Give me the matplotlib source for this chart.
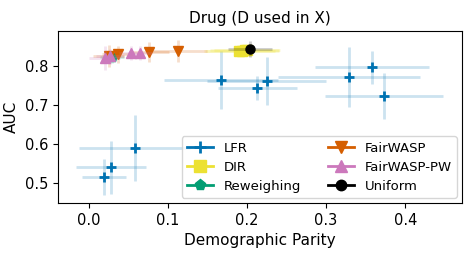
import matplotlib
matplotlib.use('Agg')
import matplotlib.pyplot as plt
from matplotlib.lines import Line2D

# LFR
lfr_x = [0.167, 0.213, 0.225, 0.329, 0.358, 0.373, 0.019, 0.028, 0.058]
lfr_y = [0.764, 0.744, 0.762, 0.772, 0.797, 0.723, 0.515, 0.541, 0.590]
lfr_xerr = [0.072, 0.050, 0.075, 0.090, 0.072, 0.075, 0.028, 0.044, 0.070]
lfr_yerr = [0.074, 0.031, 0.062, 0.076, 0.042, 0.059, 0.046, 0.068, 0.085]

# DIR
dir_x = [0.190, 0.194, 0.197, 0.200]
dir_y = [0.838, 0.840, 0.841, 0.842]
dir_xerr = [0.045, 0.046, 0.044, 0.042]
dir_yerr = [0.008, 0.008, 0.008, 0.008]

# Reweighing
rew_x = [0.029]
rew_y = [0.823]
rew_xerr = [0.015]
rew_yerr = [0.015]

# FairWASP
fw_x = [0.025, 0.037, 0.076, 0.113]
fw_y = [0.826, 0.831, 0.836, 0.838]
fw_xerr = [0.020, 0.020, 0.025, 0.037]
fw_yerr = [0.028, 0.022, 0.025, 0.028]

# FairWASP-PW
fwpw_x = [0.020, 0.027, 0.053, 0.065]
fwpw_y = [0.821, 0.825, 0.833, 0.833]
fwpw_xerr = [0.020, 0.018, 0.015, 0.015]
fwpw_yerr = [0.030, 0.020, 0.018, 0.018]

# Uniform
uni_x = [0.204]
uni_y = [0.844]
uni_xerr = [0.028]
uni_yerr = [0.020]

series = [
    ('LFR', lfr_x, lfr_y, lfr_xerr, lfr_yerr, '#0173b2', '+', 7),
    ('DIR', dir_x, dir_y, dir_xerr, dir_yerr, '#ece133', 's', 7),
    ('Reweighing', rew_x, rew_y, rew_xerr, rew_yerr, '#029e73', 'p', 7),
    ('FairWASP', fw_x, fw_y, fw_xerr, fw_yerr, '#d55e00', 'v', 7),
    ('FairWASP-PW', fwpw_x, fwpw_y, fwpw_xerr, fwpw_yerr, '#cc78bc', '^', 7),
    ('Uniform', uni_x, uni_y, uni_xerr, uni_yerr, 'black', 'o', 6.5),
]

fig = plt.figure(figsize=(4.75, 2.59), dpi=100)
ax = fig.add_axes([0.122, 0.216, 0.851, 0.664])

handles = []
for name, x, y, xe, ye, color, marker, ms in series:
    ax.errorbar(x, y, xerr=xe, yerr=ye, fmt='none', ecolor=color, alpha=0.2, elinewidth=2)
    mew = 2 if marker == '+' else 1
    ax.plot(x, y, linestyle='none', marker=marker, color=color, markersize=ms, markeredgewidth=mew)
    handles.append(Line2D([], [], color=color, marker=marker, markersize=ms + 1,
                          markeredgewidth=mew, linewidth=2, label=name))

ax.set_xlim(-0.039, 0.472)
ax.set_ylim(0.449, 0.890)
ax.set_xticks([0.0, 0.1, 0.2, 0.3, 0.4])
ax.set_yticks([0.5, 0.6, 0.7, 0.8])
ax.tick_params(labelsize=10.5)
ax.set_xlabel('Demographic Parity', fontsize=11)
ax.set_ylabel('AUC', fontsize=11)
ax.set_title('Drug (D used in X)', fontsize=11)
ax.legend(handles=handles, ncol=2, loc='lower right', fontsize=9.5,
          handlelength=2, labelspacing=0.45, columnspacing=2.0,
          borderaxespad=0.4)

fig.savefig('out.png', dpi=100)
